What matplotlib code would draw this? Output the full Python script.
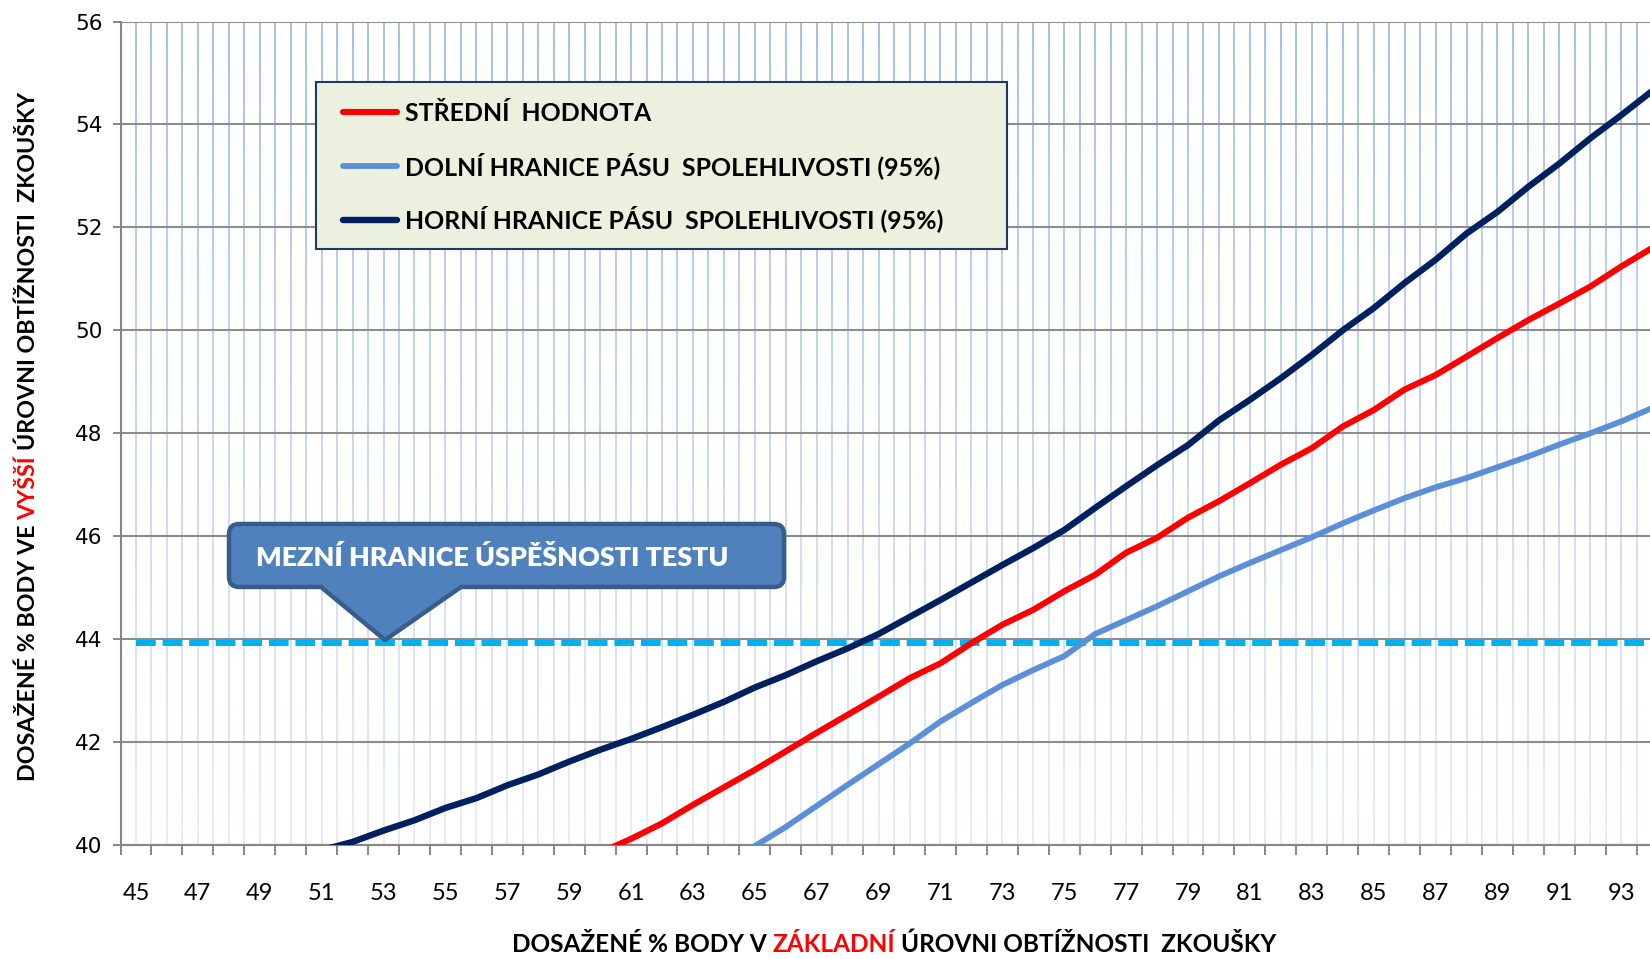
import matplotlib
matplotlib.use("Agg")
import matplotlib.pyplot as plt
import matplotlib.colors as mcolors
import numpy as np
from matplotlib.path import Path
from matplotlib.patches import PathPatch, Rectangle
from matplotlib.collections import LineCollection

plt.rcParams['font.family'] = ['Lato', 'DejaVu Sans']

# ---------------- data ----------------
categories = list(range(45, 95))

stredni = [35.3, 35.6, 35.9, 36.2, 36.5, 36.8, 37.1, 37.4, 37.7, 38.0,
           38.3, 38.6, 38.9, 39.2, 39.5, 39.85, 40.12, 40.42, 40.78, 41.12,
           41.46, 41.82, 42.18, 42.53, 42.88, 43.24, 43.53, 43.92, 44.28, 44.57,
           44.93, 45.25, 45.68, 45.97, 46.36, 46.68, 47.03, 47.39, 47.71, 48.13,
           48.45, 48.85, 49.13, 49.49, 49.85, 50.2, 50.52, 50.85, 51.24, 51.6]

dolni = [32.0, 32.4, 32.8, 33.2, 33.6, 34.0, 34.4, 34.8, 35.2, 35.6,
         36.0, 36.4, 36.8, 37.2, 37.6, 38.0, 38.4, 38.8, 39.2, 39.6,
         39.98, 40.35, 40.76, 41.17, 41.57, 41.97, 42.4, 42.76, 43.11, 43.4,
         43.67, 44.1, 44.37, 44.64, 44.93, 45.22, 45.48, 45.73, 45.98, 46.25,
         46.5, 46.74, 46.95, 47.13, 47.34, 47.55, 47.78, 48.0, 48.23, 48.49]

horni = [38.3, 38.55, 38.8, 39.05, 39.3, 39.55, 39.9, 40.06, 40.28, 40.48,
         40.72, 40.91, 41.16, 41.37, 41.62, 41.85, 42.06, 42.29, 42.53, 42.78,
         43.06, 43.3, 43.57, 43.82, 44.1, 44.43, 44.76, 45.1, 45.44, 45.77,
         46.12, 46.55, 46.97, 47.38, 47.77, 48.25, 48.65, 49.07, 49.52, 50.0,
         50.43, 50.92, 51.37, 51.88, 52.3, 52.79, 53.24, 53.73, 54.18, 54.65]

threshold = 43.92

x_tick_values = categories[::2]
x_tick_labels = [str(c) for c in x_tick_values]
y_ticks = [40, 42, 44, 46, 48, 50, 52, 54, 56]

legend_labels = ['STŘEDNÍ  HODNOTA',
                 'DOLNÍ HRANICE PÁSU  SPOLEHLIVOSTI (95%)',
                 'HORNÍ HRANICE PÁSU  SPOLEHLIVOSTI (95%)']
callout_text = 'MEZNÍ HRANICE ÚSPĚŠNOSTI TESTU'
xlabel_parts = ['DOSAŽENÉ % BODY V', 'ZÁKLADNÍ', 'ÚROVNI OBTÍŽNOSTI  ZKOUŠKY']
ylabel_parts = ['DOSAŽENÉ % BODY VE', 'VYŠŠÍ', 'ÚROVNI OBTÍŽNOSTI  ZKOUŠKY']
label_colors = ['black', '#ff0000', 'black']

# ---------------- figure ----------------
W, H = 1650, 959
fig = plt.figure(figsize=(W / 100, H / 100), dpi=100)
fig.patch.set_facecolor('white')
AX_L, AX_R, AX_T, AX_B = 120.5, 1650.0, 21.5, 845.0
ax = fig.add_axes([AX_L / W, 1 - AX_B / H, (AX_R - AX_L) / W, (AX_B - AX_T) / H])
ax.set_xlim(44.5, 93.93)
ax.set_ylim(40, 56)
ax.set_axisbelow(True)

def px2ax(x, y):
    return ((x - AX_L) / (AX_R - AX_L), (AX_B - y) / (AX_B - AX_T))

# vertical gradient grid lines (category centres and boundaries)
grid_x = np.arange(categories[0], categories[-1], 0.5)
top_c = np.array(mcolors.to_rgb('#9fbae5'))
bot_c = np.array(mcolors.to_rgb('#e6ecf8'))
ys = np.linspace(40, 56, 33)
segs, cols = [], []
for gx in grid_x:
    for i in range(len(ys) - 1):
        segs.append([(gx, ys[i]), (gx, ys[i + 1])])
        frac = ((ys[i] + ys[i + 1]) / 2 - 40) / 16
        cols.append(bot_c + (top_c - bot_c) * frac)
ax.add_collection(LineCollection(segs, colors=cols, linewidths=1.3,
                                 capstyle='butt', zorder=0.3))

ax.yaxis.grid(True, color='#8c8c8c', linewidth=1.5)
ax.xaxis.grid(False)

# threshold dashed line
ax.plot([categories[0], categories[-1]], [threshold, threshold], color='#00b0f0',
        lw=4.3, dashes=(3.3, 1.15), dash_capstyle='butt', zorder=2.6)

l_dol, = ax.plot(categories, dolni, color='#5b8fd7', lw=4.2,
                 solid_capstyle='round', solid_joinstyle='round', zorder=3)
l_str, = ax.plot(categories, stredni, color='#ff0000', lw=4.4,
                 solid_capstyle='round', solid_joinstyle='round', zorder=3)
l_hor, = ax.plot(categories, horni, color='#002060', lw=4.6,
                 solid_capstyle='round', solid_joinstyle='round', zorder=3)

# spines & ticks
for s in ['top', 'right']:
    ax.spines[s].set_visible(False)
for s in ['left', 'bottom']:
    ax.spines[s].set_color('#868686')
    ax.spines[s].set_linewidth(1.5)

ax.set_xticks(np.arange(44.5, 94.0, 1.0))
ax.set_xticks(x_tick_values, minor=True)
ax.set_xticklabels(x_tick_labels, minor=True)
ax.tick_params(axis='x', which='major', length=7, width=1.4, color='#868686',
               direction='out', labelbottom=False)
ax.tick_params(axis='x', which='minor', length=0, pad=27, labelsize=17,
               labelcolor='black')
ax.set_yticks(y_ticks)
ax.tick_params(axis='y', length=6, width=1.4, color='#868686', direction='out',
               pad=7, labelsize=15.5)
for lbl in ax.get_yticklabels():
    lbl.set_fontfamily('DejaVu Sans')

fig.canvas.draw()
renderer = fig.canvas.get_renderer()

def text_width(s, size, **props):
    t = fig.text(0, 0, s, fontsize=size, **props)
    w = t.get_window_extent(renderer).width
    t.remove()
    return w

def multicolor(parts, colors, cx, cy, rotation, target, base, props):
    widths = [text_width(p, base, **props) for p in parts]
    space = text_width('H H', base, **props) - text_width('HH', base, **props)
    total = sum(widths) + space * (len(parts) - 1)
    size = base * target / total
    k = size / base
    widths = [w * k for w in widths]
    space *= k
    pos = (cx - target / 2) if rotation == 0 else (cy - target / 2)
    for p, c, w in zip(parts, colors, widths):
        if rotation == 0:
            fig.text(pos / W, cy / H, p, color=c, fontsize=size, ha='left',
                     va='baseline', rotation=0, rotation_mode='anchor', **props)
        else:
            fig.text(cx / W, pos / H, p, color=c, fontsize=size, ha='left',
                     va='baseline', rotation=90, rotation_mode='anchor', **props)
        pos += w + space
    return size

# x label (baseline coordinates measured from bottom)
multicolor(xlabel_parts, label_colors, 894, H - 952, 0, 764, 15,
           dict(fontweight='bold', family=['Lato', 'DejaVu Sans']))
# y label
multicolor(ylabel_parts, label_colors, 35, H - 437, 90, 688, 15,
           dict(fontweight='bold', family=['Lato', 'DejaVu Sans']))

# legend
leg_props = dict(fontweight='bold', family=['Lato', 'DejaVu Sans'])
leg_size = 15 * 540 / text_width(legend_labels[2], 15, **leg_props)
fs_px = leg_size * 100 / 72
frame_l, frame_t, frame_r, frame_b = px2ax(316, 82) + px2ax(1007, 249)
ax.add_patch(Rectangle((frame_l, frame_b), frame_r - frame_l, frame_t - frame_b,
                       transform=ax.transAxes, facecolor='#ebf1de',
                       edgecolor='#1f3864', lw=1.5, zorder=4.9, clip_on=False))
anchor = px2ax(343, 167.3)
leg = ax.legend([l_str, l_dol, l_hor], legend_labels, loc='center left',
                bbox_to_anchor=anchor, frameon=False, borderpad=0,
                borderaxespad=0, handlelength=54 / fs_px,
                handletextpad=8 / fs_px, labelspacing=1.07,
                prop=dict(family=['Lato', 'DejaVu Sans'], weight='bold', size=leg_size))
leg.set_zorder(5)

# callout
L, R, T, B, r = 229, 784, 524, 587, 10
bl, br, tip = 321, 461, (385, 640)
pts = [((L + r, T), Path.MOVETO), ((R - r, T), Path.LINETO),
       ((R, T), Path.CURVE3), ((R, T + r), Path.CURVE3),
       ((R, B - r), Path.LINETO), ((R, B), Path.CURVE3), ((R - r, B), Path.CURVE3),
       ((br, B), Path.LINETO), (tip, Path.LINETO), ((bl, B), Path.LINETO),
       ((L + r, B), Path.LINETO), ((L, B), Path.CURVE3), ((L, B - r), Path.CURVE3),
       ((L, T + r), Path.LINETO), ((L, T), Path.CURVE3), ((L + r, T), Path.CURVE3),
       ((L + r, T), Path.CLOSEPOLY)]
verts = [px2ax(*p) for p, _ in pts]
codes = [c for _, c in pts]
ax.add_patch(PathPatch(Path(verts, codes), transform=ax.transAxes,
                       facecolor='#4f81bd', edgecolor='#385d8a', lw=3.2,
                       joinstyle='round', zorder=6, clip_on=False))
co_props = dict(fontweight='heavy', family=['Lato', 'DejaVu Sans'])
co_size = 15 * 475 / text_width(callout_text, 15, **co_props)
tx, ty = px2ax(256, 558)
ax.text(tx, ty, callout_text, transform=ax.transAxes, color='white',
        fontsize=co_size, ha='left', va='center', zorder=7, **co_props)

fig.savefig('out.png', dpi=100, facecolor='white')
